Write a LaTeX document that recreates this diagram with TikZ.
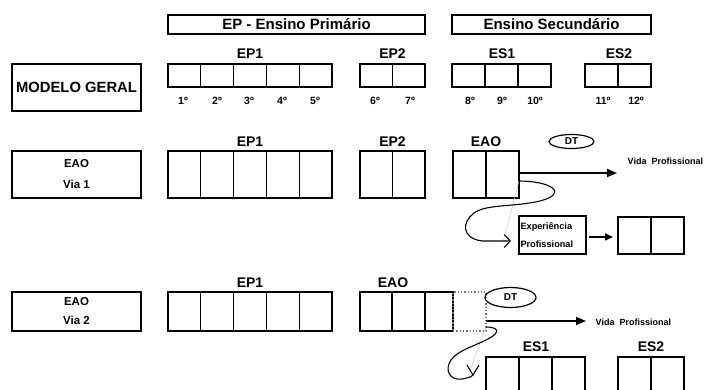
\documentclass[tikz,border=0pt]{standalone}
\usepackage{fontspec}
\setmainfont{Liberation Sans}
\usetikzlibrary{arrows.meta,shapes.geometric}
% a row of equal cells: name, left x, top y, cell width, cell height, count
\newcommand\cellrow[6]{%
  \foreach \k in {1,...,#6}{%
    \node[cell, minimum width=#4pt, minimum height=#5pt] (#1-\k) at ({#2+(\k-0.5)*#4},{#3+#5/2}) {};
  }}
\begin{document}
\begin{tikzpicture}[x=1pt,y=-1pt,
  line width=1.3pt,
  cell/.style={draw, inner sep=0pt, outer sep=0pt},
  frame/.style={draw, inner sep=0pt, outer sep=0pt, align=center},
  head/.style={frame, font=\fontsize{15}{17}\selectfont\bfseries},
  grp/.style={font=\fontsize{14}{16}\selectfont\bfseries, inner sep=0pt},
  grade/.style={font=\fontsize{10.5}{12}\selectfont\bfseries, inner sep=0pt},
  small/.style={font=\fontsize{9}{11}\selectfont\bfseries, inner sep=0pt},
  flow/.style={line width=1.8pt, -{Triangle[length=10pt,width=8pt]}},
  loopline/.style={line width=1.1pt},
  ghost/.style={line width=0.4pt, black!25},
  dtbubble/.style={draw, ellipse, inner sep=0pt, line width=1.2pt,
    font=\fontsize{10}{12}\selectfont\bfseries}]

\useasboundingbox (0,0) rectangle (706,390);
\clip (0,0) rectangle (706,390);

% ---------- headings ----------
\node[head, minimum width=257pt, minimum height=19pt] (hEP) at (296.5,24.5) {EP - Ensino Primário};
\node[head, minimum width=199pt, minimum height=19pt] (hES) at (551.5,24.5) {Ensino Secundário};

% ---------- general model ----------
\node[frame, minimum width=129pt, minimum height=47pt,
      font=\fontsize{14.8}{17}\selectfont\bfseries] (mg) at (76.5,87.5) {MODELO GERAL};
\cellrow{mEPa}{168}{64}{32.8}{23}{5}
\cellrow{mEPb}{360}{64}{32.5}{23}{2}
\cellrow{mESa}{452}{64}{33}{23}{3}
\cellrow{mESb}{585}{64}{33}{23}{2}
\node[grp] (lmEPa) at (250,54) {EP1};
\node[grp] (lmEPb) at (392.5,54) {EP2};
\node[grp] (lmESa) at (502,54) {ES1};
\node[grp] (lmESb) at (619,54) {ES2};
\foreach \g/\x in {1º/183,2º/217,3º/249,4º/282,5º/315,6º/375,7º/410,8º/470,9º/502,10º/535,11º/603,12º/636}{
  \node[grade] (gr\x) at (\x,100.5) {\g};
}

% ---------- route 1 ----------
\node[frame, minimum width=129pt, minimum height=47pt,
      font=\fontsize{11.5}{21}\selectfont\bfseries] (v1) at (76.5,174.5) {EAO\\Via 1};
\cellrow{aEP}{168}{151}{32.8}{47}{5}
\cellrow{aEPb}{360}{151}{32.5}{47}{2}
\cellrow{aEAO}{453}{151}{33}{47}{2}
\node[grp] (laEP) at (250,142) {EP1};
\node[grp] (laEPb) at (392.5,142) {EP2};
\node[grp] (laEAO) at (486,142) {EAO};
\node[dtbubble, minimum width=45pt, minimum height=14pt] (dt1) at (571.5,141.5) {DT};
\node[small, anchor=west] (vp1) at (627,161) {Vida~~Profissional};
\coordinate (vp1end) at (617,173);
\draw[flow] (aEAO-2.east |- 0,173) -- (vp1end);

\node[frame, minimum width=67pt, minimum height=38pt, text width=64pt, align=left,
      font=\fontsize{9.2}{18}\selectfont\bfseries] (exp) at (552.5,235) {Experiência\\Profissional};
\cellrow{aOut}{618}{217}{33}{37}{2}
\draw[line width=1.5pt, -{Triangle[length=8pt,width=7pt]}, shorten <=3pt, shorten >=5pt]
  (exp.east |- 0,237) -- (aOut-1.west |- 0,237);

\coordinate (c1s) at (519,181);
\coordinate (c1e) at (511,241);
\draw[ghost] (c1s) -- (503,242);
\draw[loopline, -{Straight Barb[length=6pt,width=13pt]}] (c1s)
  .. controls (550,181) and (570,193) .. (540,201)
  .. controls (515,207) and (486,204) .. (474,213)
  .. controls (462,222) and (461,238) .. (482,241) -- (c1e);

% ---------- route 2 ----------
\node[frame, minimum width=129pt, minimum height=39pt,
      font=\fontsize{11.5}{19}\selectfont\bfseries] (v2) at (76.5,311.5) {EAO\\Via 2};
\cellrow{bEP}{168}{292}{32.8}{39}{5}
\node[grp] (lbEP) at (250,283) {EP1};
\node[cell, minimum width=32pt, minimum height=39pt] (bEAO-1) at (376,311.5) {};
\node[cell, minimum width=33pt, minimum height=39pt] (bEAO-2) at (408.5,311.5) {};
\node[cell, minimum width=28pt, minimum height=39pt] (bEAO-3) at (439,311.5) {};
\node[cell, draw=black!55, dotted, line width=1.3pt, minimum width=33pt, minimum height=39pt] (bEAO-4) at (469.5,311.5) {};
\node[grp] (lbEAO) at (393,283) {EAO};
\node[dtbubble, minimum width=51pt, minimum height=20pt] (dt2) at (510.5,297.5) {DT};
\node[small, anchor=west] (vp2) at (595,322) {Vida~~Profissional};
\coordinate (vp2end) at (586,321);
\draw[flow] (bEAO-4.east |- 0,321) -- (vp2end);

\cellrow{bES}{486}{357}{33}{40}{3}
\cellrow{bESb}{618}{357}{33}{40}{2}
\node[grp] (lbES) at (536,347) {ES1};
\node[grp] (lbESb) at (651,347) {ES2};

\coordinate (c2s) at (486,327);
\coordinate (c2e) at (473,375);
\draw[ghost] (c2s) -- (469,373);
\draw[loopline] (c2s)
  .. controls (496,327) and (503,331) .. (488,339)
  .. controls (475,346) and (458,350) .. (451,360)
  .. controls (444,370) and (450,381) .. (462,379)
  .. controls (468,378) and (471,377) .. (c2e);
\draw[loopline] (c2e) ++(-6,-10) -- (c2e) -- ++(6,-10);
\end{tikzpicture}
\end{document}
